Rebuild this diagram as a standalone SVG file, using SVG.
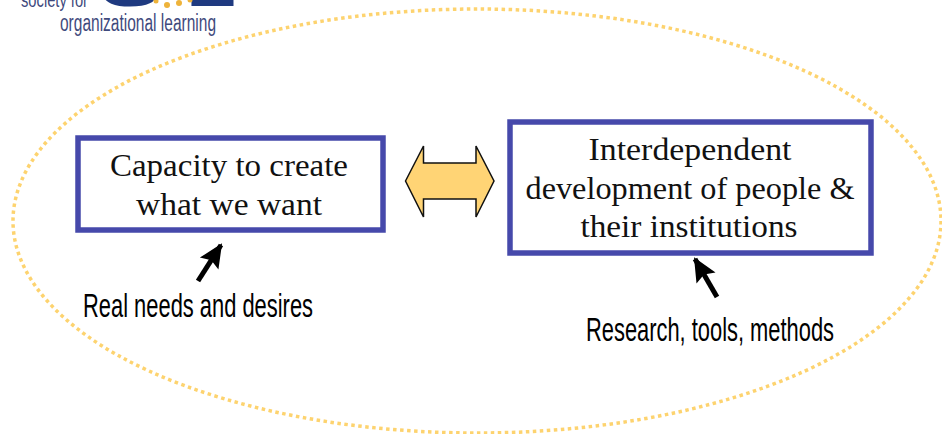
<svg xmlns="http://www.w3.org/2000/svg" width="942" height="434" viewBox="0 0 942 434">
<style>
.box{fill:#fff;stroke:#4649ab;stroke-width:5.5}
.s{font-family:"Liberation Serif",serif;font-size:31.500px;fill:#111;text-anchor:middle}
.f{font-family:"Liberation Sans Narrow","Liberation Sans",sans-serif;font-size:34px;fill:#000}
.logo{font-family:"Liberation Sans Narrow","Liberation Sans",sans-serif;fill:#3f4a7d}
.big{font-family:"Liberation Sans",sans-serif;font-weight:bold;font-size:62px;fill:#1f3a80}
.arr{fill:none;stroke:#000;stroke-width:5}
</style>
<defs><marker id="h" markerUnits="userSpaceOnUse" markerWidth="26" markerHeight="26" refX="22" refY="12" orient="auto"><path d="M0 1L24 12L0 23L4 12z" fill="#000"/></marker></defs>
<rect width="942" height="434" fill="#fff"/>
<g id="logo">
<text class="logo" x="21" y="7" font-size="21" textLength="67" lengthAdjust="spacingAndGlyphs">society for</text>
<text class="logo" x="60" y="31" font-size="23" textLength="156" lengthAdjust="spacingAndGlyphs">organizational learning</text>
<text class="big" x="100" y="6" textLength="60" lengthAdjust="spacingAndGlyphs">S</text>
<text class="big" x="186" y="6" textLength="50" lengthAdjust="spacingAndGlyphs">L</text>
<g fill="#eeb33a"><circle cx="156" cy="1" r="2.500"/><circle cx="167" cy="5" r="3"/><circle cx="179" cy="3" r="3"/><circle cx="190" cy="0" r="2.500"/></g>
</g>
<g id="boundary"><ellipse cx="477" cy="221" rx="464" ry="212" fill="none" stroke="#fdd36f" stroke-width="3.500" stroke-dasharray="3.500 3.500"/></g>
<g id="node-capacity"><rect class="box" x="78" y="138" width="305" height="92"/>
<text class="s" x="229" y="176" textLength="238" lengthAdjust="spacingAndGlyphs">Capacity to create</text>
<text class="s" x="229" y="215" textLength="186" lengthAdjust="spacingAndGlyphs">what we want</text></g>
<g id="node-development"><rect class="box" x="510" y="122" width="361" height="131"/>
<text class="s" x="690" y="160" textLength="203" lengthAdjust="spacingAndGlyphs">Interdependent</text>
<text class="s" x="690" y="199" textLength="329" lengthAdjust="spacingAndGlyphs">development of people &amp;</text>
<text class="s" x="689" y="237" textLength="217" lengthAdjust="spacingAndGlyphs">their institutions</text></g>
<g id="node-double-arrow"><path d="M405.500 181L423.500 146V163H476V146L494 181L476 217V199H423.500V217Z" fill="#ffd475" stroke="#111" stroke-width="1.500"/></g>
<g id="connectors">
<path class="arr" d="M198 281L221 245" marker-end="url(#h)"/>
<path class="arr" d="M717 297L695 259" marker-end="url(#h)"/>
</g>
<g id="label-needs"><text class="f" x="83" y="317" textLength="230" lengthAdjust="spacingAndGlyphs">Real needs and desires</text></g>
<g id="label-research"><text class="f" x="586" y="341" textLength="248" lengthAdjust="spacingAndGlyphs">Research, tools, methods</text></g>
</svg>
